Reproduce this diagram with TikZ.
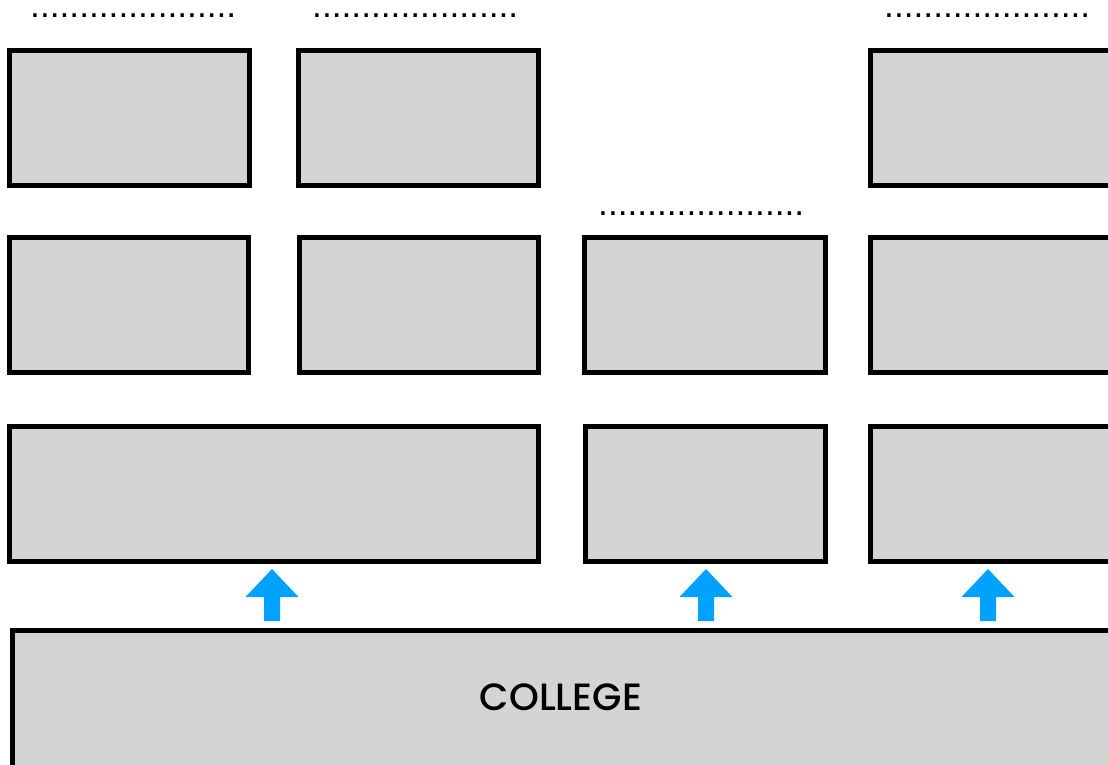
\documentclass[tikz,border=0pt]{standalone}
\usepackage{fontspec}
\setmainfont{Poppins}
\newfontfamily\colfont{Poppins}[UprightFont={* Medium}]
\newfontfamily\dotfont{Liberation Sans}
\definecolor{boxgray}{HTML}{D4D4D4}
\definecolor{arrowblue}{HTML}{00A2FF}
\begin{document}
\begin{tikzpicture}[x=1pt,y=-1pt,
  blk/.style={draw=black,line width=5pt,fill=boxgray,inner sep=0pt,anchor=north west,minimum width=#1-5pt,minimum height=135pt},
  dotrow/.style={anchor=base west,inner sep=0pt,font=\dotfont\fontsize{35.3}{36}\selectfont},
  uparrow/.style={fill=arrowblue,draw=none}]
\useasboundingbox (0,0) rectangle (1108,765);
\clip (0,0) rectangle (1108,765);
% row 1
\node[blk=245pt] (a1) at (7,48) {};
\node[blk=245pt] (a2) at (296,48) {};
\node[blk=260pt] (a4) at (868,48) {};
% row 2
\node[blk=244pt] (b1) at (7,235) {};
\node[blk=244pt] (b2) at (297,235) {};
\node[blk=246pt] (b3) at (582,235) {};
\node[blk=260pt] (b4) at (868,235) {};
% row 3
\node[blk=534pt] (c1) at (7,424) {};
\node[blk=245pt] (c3) at (583,424) {};
\node[blk=260pt] (c4) at (868,424) {};
% bottom
\node[blk=1120pt,minimum height=160pt] (col) at (10,628) {};
\node[anchor=base,inner sep=0pt,font=\colfont\fontsize{38}{40}\selectfont] (coltext) at (561,710) {COLLEGE};
% dotted placeholders
\node[dotrow] (d1) at (30,18) {.....................};
\node[dotrow] (d2) at (312,18) {.....................};
\node[dotrow] (d3) at (884,18) {.....................};
\node[dotrow] (d4) at (598,215) {.....................};
% arrows
\foreach \ax/\nm in {272/ar1,706/ar2,988/ar3}{
  \coordinate (\nm) at (\ax,569);
  \fill[uparrow] (\nm) -- ++(26.5,28) -- ++(-18.5,0) -- ++(0,24) -- ++(-16,0) -- ++(0,-24) -- ++(-18.5,0) -- cycle;
}
\end{tikzpicture}
\end{document}
